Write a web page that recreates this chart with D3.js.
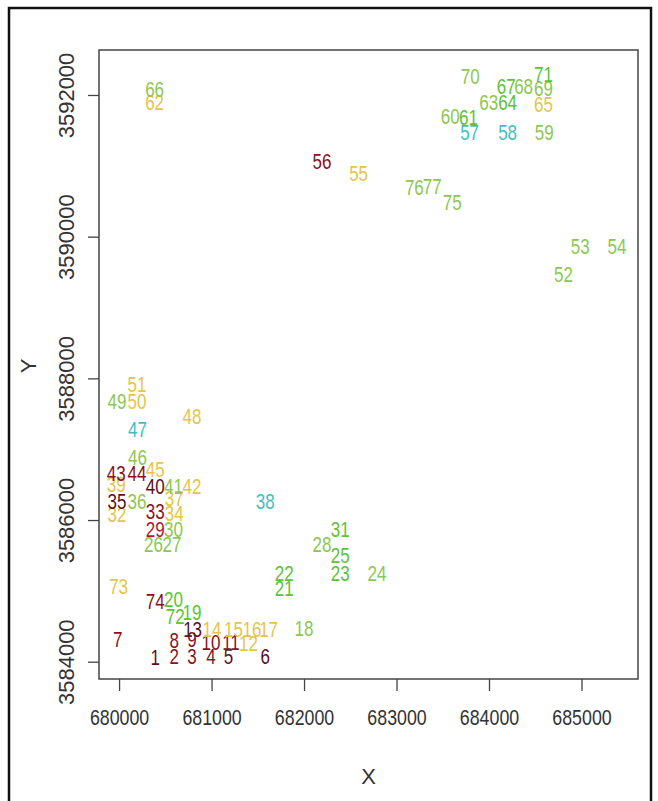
<!DOCTYPE html>
<html>
<head>
<meta charset="utf-8">
<script src="https://cdn.jsdelivr.net/npm/d3@7"></script>
<style>
  body { margin: 0; background: #fff; }
  text { font-family: "Liberation Sans", Arial, sans-serif; }
</style>
</head>
<body>
<svg id="chart" width="658" height="801"></svg>
<script>
// Station labels with their UTM coordinates and class
const ids = [1,2,3,4,5,6,7,8,9,10,11,12,13,14,15,16,17,18,19,20,21,22,23,24,25,26,27,28,29,30,31,32,33,34,35,36,37,38,39,40,41,42,43,44,45,46,47,48,49,50,51,52,53,54,55,56,57,58,59,60,61,62,63,64,65,66,67,68,69,70,71,72,73,74,75,76,77];
const xs = [680390,680597,680788,680993,681184,681581,679985,680597,680788,680993,681210,681400,680795,681004,681238,681437,681617,682000,680788,680589,681786,681786,682392,682789,682392,680373,680572,682194,680391,680589,682392,679977,680391,680597,679977,680193,680597,681581,679970,680391,680589,680788,679970,680193,680391,680200,680200,680788,679977,680193,680193,684806,684987,685384,682590,682194,683790,684201,684598,683581,683779,680384,683996,684201,684590,680384,684187,684374,684590,683797,684590,680608,679995,680391,683603,683193,683387];
const ys = [3584060,3584065,3584065,3584065,3584065,3584070,3584306,3584296,3584306,3584263,3584263,3584249,3584457,3584447,3584447,3584447,3584447,3584460,3584691,3584870,3585035,3585247,3585247,3585247,3585492,3585647,3585647,3585647,3585859,3585859,3585859,3586070,3586117,3586094,3586258,3586258,3586306,3586258,3586494,3586470,3586470,3586470,3586659,3586659,3586706,3586885,3587270,3587458,3587670,3587670,3587906,3589459,3589858,3589858,3590894,3591058,3591459,3591459,3591459,3591694,3591671,3591883,3591883,3591883,3591859,3592071,3592117,3592117,3592094,3592259,3592282,3584635,3585058,3584847,3590475,3590687,3590701];
const classes = ["maroon","darkred","darkred","darkred","maroon","maroon","darkred","darkred","darkred","darkred","darkred","yellow","maroon","yellow","yellow","yellow","yellow","lightgreen","green","green","green","green","green","lightgreen","green","lightgreen","lightgreen","lightgreen","red","lightgreen","green","yellow","darkred","yellow","maroon","lightgreen","yellow","teal","yellow","maroon","lightgreen","yellow","darkred","darkred","yellow","lightgreen","teal","yellow","lightgreen","yellow","yellow","lightgreen","lightgreen","lightgreen","yellow","darkred","teal","teal","lightgreen","lightgreen","green","yellow","lightgreen","green","yellow","lightgreen","green","lightgreen","lightgreen","lightgreen","green","green","yellow","darkred","lightgreen","lightgreen","lightgreen"];

const classNames = ["maroon","darkred","red","yellow","lightgreen","green","teal"];
const classColors = ["#5c0f1e","#8b1020","#b5152a","#e6c44a","#8cc850","#5cc433","#3fbfbf"];

const xTicks = [680000,681000,682000,683000,684000,685000];
const yTicks = [3584000,3586000,3588000,3590000,3592000];
const xTitle = "X";
const yTitle = "Y";

const svg = d3.select("#chart");

// outer frame of the graphics device
svg.append("rect")
  .attr("x", 9).attr("y", 8).attr("width", 642).attr("height", 810)
  .attr("fill", "none").attr("stroke", "#111").attr("stroke-width", 2.5);

const plot = { left: 99, right: 638, top: 50, bottom: 679 };

const x = d3.scaleLinear().domain([679783, 685611]).range([plot.left, plot.right]);
const y = d3.scaleLinear().domain([3583756, 3592635]).range([plot.bottom, plot.top]);
const color = d3.scaleOrdinal().domain(classNames).range(classColors);

// x axis
const xAxis = svg.append("g")
  .attr("transform", `translate(0,${plot.bottom})`)
  .call(d3.axisBottom(x).tickValues(xTicks).tickFormat(d3.format("d")).tickSize(12).tickPadding(0));
xAxis.select(".domain").remove();
xAxis.selectAll("line").attr("stroke", "#444").attr("stroke-width", 1.3);
xAxis.selectAll("text")
  .attr("fill", "#333").attr("font-size", 17.8).attr("dy", null).attr("y", 0)
  .attr("text-anchor", "middle").attr("dominant-baseline", "central")
  .attr("transform", "translate(0,38) scale(1,1.25)");

// y axis with rotated labels
const yAxis = svg.append("g")
  .attr("transform", `translate(${plot.left},0)`)
  .call(d3.axisLeft(y).tickValues(yTicks).tickFormat(d3.format("d")).tickSize(11).tickPadding(0));
yAxis.select(".domain").remove();
yAxis.selectAll("line").attr("stroke", "#444").attr("stroke-width", 1.3);
yAxis.selectAll("text")
  .attr("fill", "#333").attr("font-size", 22).attr("x", 0).attr("dy", null)
  .attr("text-anchor", "middle").attr("dominant-baseline", "central")
  .attr("transform", "translate(-33,0) rotate(-90)");

// plot box
svg.append("rect")
  .attr("x", plot.left).attr("y", plot.top)
  .attr("width", plot.right - plot.left).attr("height", plot.bottom - plot.top)
  .attr("fill", "none").attr("stroke", "#444").attr("stroke-width", 1.5);

// axis titles
svg.append("text").text(xTitle)
  .attr("fill", "#333").attr("font-size", 22).attr("text-anchor", "middle")
  .attr("dominant-baseline", "central")
  .attr("transform", `translate(${(plot.left + plot.right) / 2},776)`);
svg.append("text").text(yTitle)
  .attr("fill", "#333").attr("font-size", 22).attr("text-anchor", "middle")
  .attr("dominant-baseline", "central")
  .attr("transform", "translate(28,366) rotate(-90)");

// station labels drawn at their coordinates
const rows = ids.map((id, i) => ({ id, x: xs[i], y: ys[i], cls: classes[i] }));
svg.append("g").selectAll("text")
  .data(rows)
  .join("text")
  .text(d => d.id)
  .attr("fill", d => color(d.cls))
  .attr("font-size", 17)
  .attr("text-anchor", "middle")
  .attr("dominant-baseline", "central")
  .attr("transform", d => `translate(${x(d.x)},${y(d.y)}) scale(1,1.25)`);
</script>
</body>
</html>
